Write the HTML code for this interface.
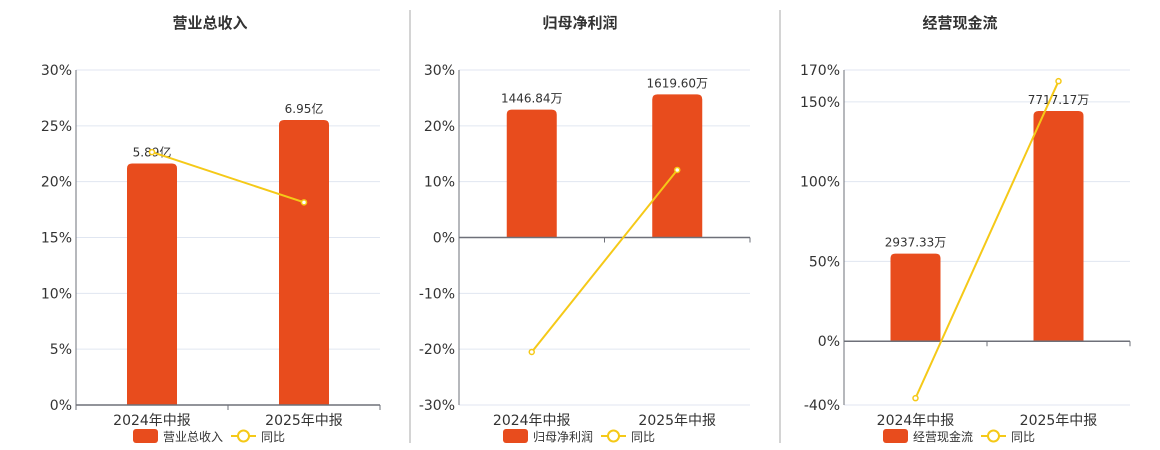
<!DOCTYPE html>
<html><head><meta charset="utf-8">
<style>
html,body{margin:0;padding:0;background:#fff;}
svg{display:block;font-family:"DejaVu Sans","Noto Sans CJK SC",sans-serif;}
</style></head>
<body>
<svg id="c" width="1160" height="450" viewBox="0 0 1160 450"></svg>
<script>
const categories = ["2024年中报","2025年中报"];
const titles = ["营业总收入","归母净利润","经营现金流"];
const barValues1 = [5.89, 6.95];
const barLabels1 = ["5.89亿","6.95亿"];
const yoy1 = [22.65, 18.15];
const ticks1 = [30,25,20,15,10,5,0];
const barValues2 = [1446.84, 1619.60];
const barLabels2 = ["1446.84万","1619.60万"];
const yoy2 = [-20.5, 12.1];
const ticks2 = [30,20,10,0,-10,-20,-30];
const barValues3 = [2937.33, 7717.17];
const barLabels3 = ["2937.33万","7717.17万"];
const yoy3 = [-35.7, 163];
const ticks3 = [170,150,100,50,0,-40];

const NS="http://www.w3.org/2000/svg";
const svg=document.getElementById('c');
function mk(tag,attrs,parent){const e=document.createElementNS(NS,tag);for(const k in attrs)e.setAttribute(k,attrs[k]);(parent||svg).appendChild(e);return e;}

const cfgs=[
 {x0:76,x1:380,top:70,bot:405,pmax:30,pmin:0,bmax:8.17,bars:barValues1,labels:barLabels1,yoy:yoy1,ticks:ticks1,title:titles[0],tx:210,lx:133},
 {x0:459,x1:750,top:70,bot:405,pmax:30,pmin:-30,bmax:167.5/0.0884,bars:barValues2,labels:barLabels2,yoy:yoy2,ticks:ticks2,title:titles[1],tx:580,lx:503},
 {x0:844,x1:1130,top:70,bot:405,pmax:170,pmin:-40,bmax:7717.17/230*271,bars:barValues3,labels:barLabels3,yoy:yoy3,ticks:ticks3,title:titles[2],tx:960,lx:883}
];

cfgs.forEach((c,ci)=>{
  const g=mk('g',{});
  
  
  const y=v=>c.bot-(v-c.pmin)/(c.pmax-c.pmin)*(c.bot-c.top);
  const zero=y(0);
  const by=v=>zero-v/c.bmax*(zero-c.top);
  const band=(c.x1-c.x0)/categories.length;
  const cx=i=>c.x0+band*(i+0.5);
  const t=mk('text',{x:c.tx,y:28,'text-anchor':'middle','font-size':15,'font-weight':'bold',fill:'#333'},g);
  t.textContent=c.title;
  
  
  c.ticks.forEach(v=>{
    const yy=y(v);
    const gl=mk('line',{x1:c.x0,x2:c.x1,y1:yy,y2:yy,stroke:'#e0e6f1','stroke-width':1},g);
    
    
    const tl=mk('text',{x:c.x0-4,y:yy+5,'text-anchor':'end','font-size':14,fill:'#333'},g);
    tl.textContent=v+'%';
    
    
  });
  const ya=mk('line',{x1:c.x0,x2:c.x0,y1:c.top,y2:c.bot,stroke:'#6e7079','stroke-width':1},g);
  
  
  c.bars.forEach((v,i)=>{
    const top=by(v);
    const r=mk('path',{d:`M${cx(i)-25},${zero}V${top+5}Q${cx(i)-25},${top} ${cx(i)-20},${top}H${cx(i)+20}Q${cx(i)+25},${top} ${cx(i)+25},${top+5}V${zero}Z`,fill:'#e84c1d'},g);
    
    
    const l=mk('text',{x:cx(i),y:top-7,'text-anchor':'middle','font-size':12,fill:'#333'},g);
    l.textContent=c.labels[i];
    
    
    const xl=mk('text',{x:cx(i),y:425,'text-anchor':'middle','font-size':14,fill:'#333'},g);
    xl.textContent=categories[i];
    
    
  });
  const xa=mk('line',{x1:c.x0,x2:c.x1,y1:zero,y2:zero,stroke:'#6e7079','stroke-width':1.5},g);
  
  
  [0,1,2].forEach(k=>{const xx=c.x0+band*k;mk('line',{x1:xx,x2:xx,y1:zero,y2:zero+5,stroke:'#6e7079'},g);});
  const pts=c.yoy.map((v,i)=>cx(i)+','+y(v)).join(' ');
  const pl=mk('polyline',{points:pts,fill:'none',stroke:'#f5c918','stroke-width':2},g);
  
  
  c.yoy.forEach((v,i)=>{
    const p=mk('circle',{cx:cx(i),cy:y(v),r:2.5,fill:'#fff',stroke:'#f5c918','stroke-width':1.5},g);
    
    
  });
  const lg=mk('g',{},g);
  
  
  mk('rect',{x:c.lx,y:429,width:25,height:14,rx:3,fill:'#e84c1d'},lg);
  const lt=mk('text',{x:c.lx+30,y:441,'font-size':12,fill:'#333'},lg);
  lt.textContent=c.title;
  const ox=c.lx+30+c.title.length*12+8;
  mk('line',{x1:ox,x2:ox+25,y1:436,y2:436,stroke:'#f5c918','stroke-width':2},lg);
  mk('circle',{cx:ox+12.5,cy:436,r:5.5,fill:'#fff',stroke:'#f5c918','stroke-width':2},lg);
  const lt2=mk('text',{x:ox+30,y:441,'font-size':12,fill:'#333'},lg);
  lt2.textContent='同比';
});
[410,780].forEach(x=>{
  const d=mk('line',{x1:x,x2:x,y1:10,y2:443,stroke:'#aaa','stroke-width':1});
  
  
});
</script>
</body></html>
